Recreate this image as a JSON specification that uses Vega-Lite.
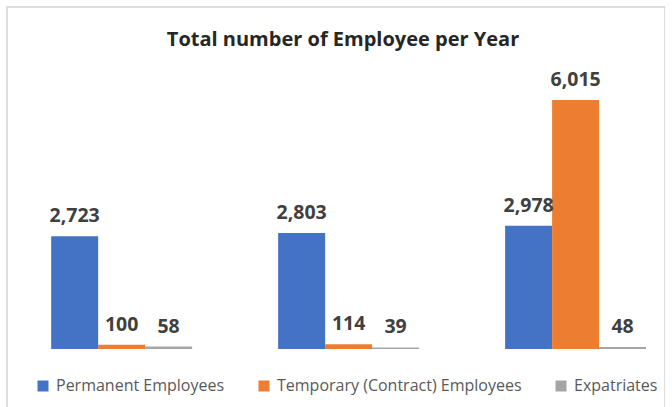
{
  "$schema": "https://vega.github.io/schema/vega-lite/v6.json",
  "autosize": {"type": "none"},
  "padding": {"left": 7, "top": 7, "right": 0, "bottom": 0},
  "width": 658,
  "height": 420,
  "background": "white",
  "title": {
    "text": "Total number of Employee per Year",
    "font": "Open Sans",
    "fontSize": 20,
    "fontWeight": "bold",
    "color": "#262626",
    "anchor": "middle",
    "dx": 7,
    "offset": -43
  },
  "data": {
    "values": [
      {"year": "Year 1", "type": "Permanent Employees", "count": 2723},
      {"year": "Year 1", "type": "Temporary (Contract) Employees", "count": 100},
      {"year": "Year 1", "type": "Expatriates", "count": 58},
      {"year": "Year 2", "type": "Permanent Employees", "count": 2803},
      {"year": "Year 2", "type": "Temporary (Contract) Employees", "count": 114},
      {"year": "Year 2", "type": "Expatriates", "count": 39},
      {"year": "Year 3", "type": "Permanent Employees", "count": 2978},
      {"year": "Year 3", "type": "Temporary (Contract) Employees", "count": 6015},
      {"year": "Year 3", "type": "Expatriates", "count": 48}
    ]
  },
  "encoding": {
    "x": {
      "field": "year",
      "type": "nominal",
      "axis": null,
      "scale": {"paddingInner": 0.379, "paddingOuter": 0.139, "align": 0.7}
    },
    "xOffset": {
      "field": "type",
      "type": "nominal",
      "sort": ["Permanent Employees", "Temporary (Contract) Employees", "Expatriates"],
      "scale": {"paddingInner": 0, "paddingOuter": 0}
    },
    "y": {
      "field": "count",
      "type": "quantitative",
      "axis": null,
      "scale": {"domain": [-1884, 8262], "nice": false, "zero": false}
    }
  },
  "layer": [
    {
      "mark": {"type": "bar"},
      "encoding": {
        "y2": {"datum": 0},
        "color": {
          "field": "type",
          "type": "nominal",
          "sort": ["Permanent Employees", "Temporary (Contract) Employees", "Expatriates"],
          "scale": {
            "domain": ["Permanent Employees", "Temporary (Contract) Employees", "Expatriates"],
            "range": ["#4472C4", "#ED7D31", "#A5A5A5"]
          },
          "legend": {
            "title": null,
            "orient": "none",
            "direction": "horizontal",
            "legendX": 28,
            "legendY": 371,
            "symbolType": "square",
            "symbolSize": 121,
            "symbolStrokeWidth": 0,
            "labelFont": "Open Sans",
            "labelFontSize": 16,
            "labelColor": "#595959",
            "labelOffset": 5,
            "labelLimit": 400,
            "columnPadding": 31
          }
        }
      }
    },
    {
      "mark": {
        "type": "text",
        "font": "Open Sans",
        "fontSize": 19.5,
        "fontWeight": "bold",
        "color": "#404040",
        "baseline": "alphabetic",
        "dy": -14
      },
      "encoding": {
        "text": {"field": "count", "type": "quantitative", "format": ","}
      }
    }
  ],
  "config": {
    "view": {"stroke": "#d4d4d4", "strokeWidth": 1.5}
  }
}
